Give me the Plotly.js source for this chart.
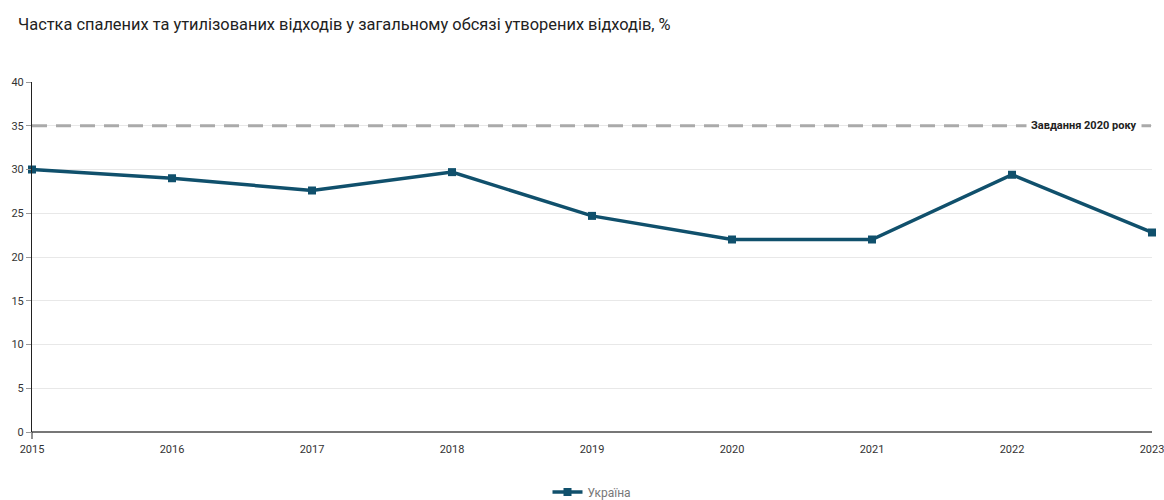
<!DOCTYPE html>
<html>
<head>
<meta charset="utf-8">
<script src="https://cdn.plot.ly/plotly-3.0.1.min.js"></script>
<style>html,body{margin:0;padding:0;background:#fff;}#chart{width:1164px;height:500px;}</style>
</head>
<body>
<div id="chart"></div>
<script>
const years = [2015, 2016, 2017, 2018, 2019, 2020, 2021, 2022, 2023];
const ukraineValues = [30.0, 29.0, 27.6, 29.7, 24.7, 22.0, 22.0, 29.4, 22.8];
const targetValue = 35;
const targetLabel = "Завдання 2020 року";
const seriesName = "Україна";
const chartTitle = "Частка спалених та утилізованих відходів у загальному обсязі утворених відходів, %";
const yTicks = [0, 5, 10, 15, 20, 25, 30, 35, 40];

const lineColor = "#10506c";
const fontFam = "Roboto, Arial, sans-serif";

const traces = [{
  x: years,
  y: ukraineValues,
  type: "scatter",
  mode: "lines+markers",
  name: seriesName,
  line: {color: lineColor, width: 3.5},
  marker: {symbol: "square", size: 8, color: lineColor},
  cliponaxis: false,
  hoverinfo: "x+y"
}];

const layout = {
  width: 1164,
  height: 500,
  paper_bgcolor: "#fff",
  plot_bgcolor: "#fff",
  margin: {l: 32, r: 12, t: 82, b: 68},
  font: {family: fontFam, color: "#222"},
  title: {
    text: chartTitle,
    x: 18 / 1164, xanchor: "left", xref: "container",
    y: 0.952, yanchor: "middle", yref: "container",
    font: {size: 16.4, color: "#222", family: fontFam}
  },
  xaxis: {
    type: "linear",
    range: [years[0], years[years.length - 1]],
    tickvals: years,
    ticktext: years.map(String),
    showgrid: false,
    zeroline: false,
    showline: false,
    ticks: "outside", ticklen: 7, tickcolor: "rgba(0,0,0,0)",
    ticklabeloverflow: "allow",
    tickfont: {size: 11, color: "#333", family: fontFam},
    fixedrange: true
  },
  yaxis: {
    range: [0, 40],
    tickvals: yTicks,
    showgrid: true,
    gridcolor: "#e8e8e8",
    gridwidth: 1,
    zeroline: true,
    zerolinecolor: "#777",
    zerolinewidth: 1.5,
    showline: true,
    linecolor: "#222",
    linewidth: 1,
    ticks: "outside",
    ticklen: 5,
    tickcolor: "#999",
    tickfont: {size: 11, color: "#333", family: fontFam},
    fixedrange: true
  },
  shapes: [{
    type: "line", xref: "paper", x0: 0, x1: 1, yref: "y", y0: targetValue, y1: targetValue,
    line: {color: "#aaa", width: 3, dash: "15px,9px"},
    layer: "above"
  }, {
    type: "line", xref: "paper", x0: 0, x1: 0, yref: "paper", y0: 0, y1: -0.02,
    line: {color: "#222", width: 1}
  }],
  annotations: [{
    x: 1, xref: "paper", xanchor: "right", xshift: -10,
    y: targetValue, yref: "y", yanchor: "middle",
    text: "<b>" + targetLabel + "</b>",
    showarrow: false,
    bgcolor: "#fff",
    borderpad: 4,
    font: {size: 11, color: "#222", family: fontFam}
  }],
  showlegend: true,
  legend: {
    orientation: "h",
    x: 0.5, xanchor: "center", xref: "paper",
    y: 8 / 500, yanchor: "middle", yref: "container",
    font: {size: 12, color: "#777", family: fontFam},
    itemwidth: 30
  },
  hovermode: "closest"
};

Plotly.newPlot("chart", traces, layout, {displayModeBar: false, responsive: false});
</script>
</body>
</html>
